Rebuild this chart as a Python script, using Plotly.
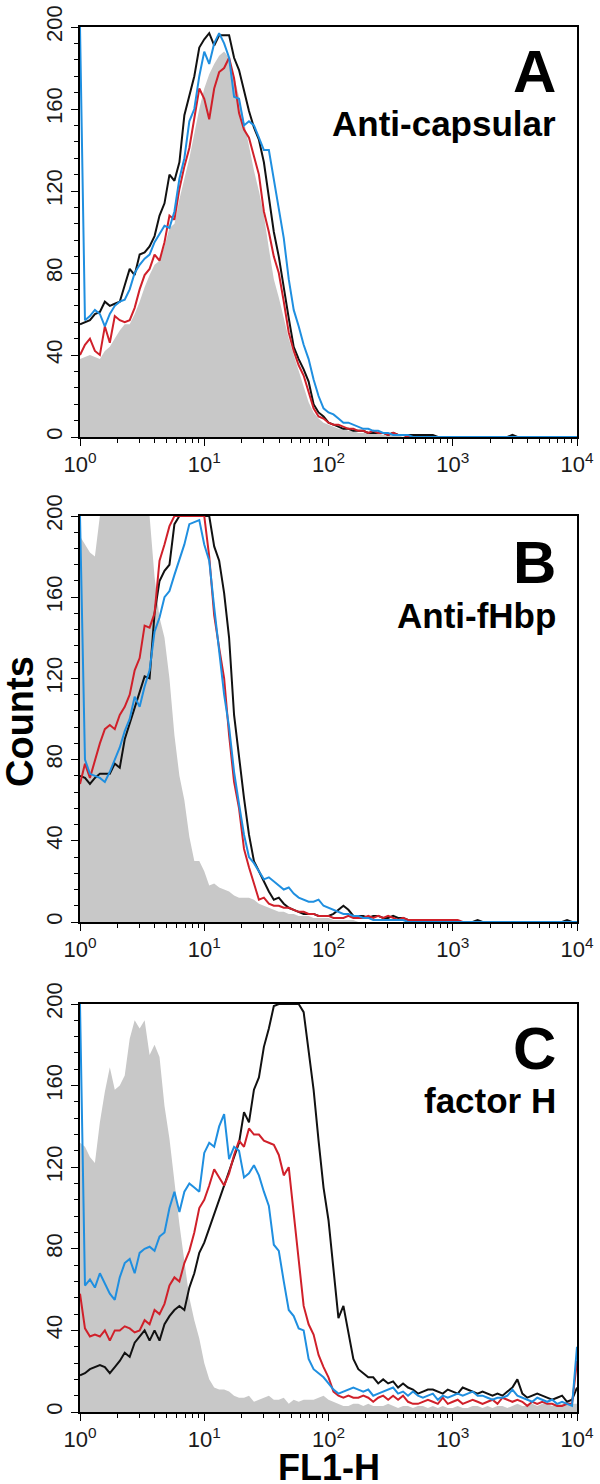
import plotly.graph_objects as go

# ---------------- data (counts per FL1-H channel, log10 step 0.04 from 10^0 to 10^4) ----------------
LOG_STEP = 0.04
N_BINS = 101
fl1 = [10 ** (k * LOG_STEP) for k in range(N_BINS)]

# Panel A : Anti-capsular
gray_A = [38,39,40,39,38,42,44,48,52,55,
          55,60,66,73,79,84,86,93,102,104,
          116,126,136,148,160,170,177,182,186,188,
          185,176,166,154,142,130,120,108,92,77,
          68,58,48,40,32,24,17,12,9,7,
          6,5,4,4,3,3,2,2,2,2,
          2,1,1,1,1,0,0,0,0,0,
          0,0,0,0,0,0,0,0,0,0,
          0,0,0,0,0,0,0,0,0,0,
          0,0,0,0,0,0,0,0,0,0,
          0]
black_A = [55,56,57,60,61,66,64,65,66,74,
           82,79,89,90,93,98,108,114,128,125,
           134,157,167,176,190,194,197,191,196,196,
           196,185,179,169,159,151,145,134,116,100,
           88,72,58,44,38,33,27,16,12,10,
           7,6,5,4,4,3,3,3,2,2,
           2,2,1,2,1,1,1,1,1,1,
           1,1,0,0,0,0,0,0,0,0,
           0,0,0,0,0,0,0,1,0,0,
           0,0,0,0,0,0,0,0,0,0,
           0]
red_A = [40,45,48,42,40,54,46,59,57,56,
         57,63,72,79,82,89,86,95,108,106,
         121,132,141,155,170,165,155,170,178,180,
         185,175,158,150,146,137,128,110,100,88,
         80,66,51,42,35,30,22,14,10,9,
         7,6,6,5,4,4,3,3,2,3,
         2,2,1,2,1,1,0,0,0,0,
         0,0,0,0,0,0,0,0,0,0,
         0,0,0,0,0,0,0,0,0,0,
         0,0,0,0,0,0,0,0,0,0,
         0]
blue_A = [200,57,59,62,60,54,60,64,66,67,
          72,80,84,87,89,95,99,103,102,110,
          126,136,154,160,176,188,182,192,197,192,
          185,166,165,152,154,152,146,140,140,126,
          113,97,77,62,54,45,38,28,20,14,
          12,11,9,7,7,6,5,4,4,3,
          3,2,2,1,1,1,1,0,0,0,
          0,0,0,0,0,0,0,0,0,0,
          0,0,0,0,0,0,0,0,0,0,
          0,0,0,0,0,0,0,0,0,0,
          0]

# Panel B : Anti-fHbp
gray_B = [190,186,182,180,200,200,200,200,200,200,
          200,200,200,200,200,170,150,140,120,92,
          72,60,42,30,30,25,18,19,17,16,
          15,13,12,12,12,11,9,8,7,6,
          5,5,4,4,3,3,3,2,2,2,
          2,1,1,1,1,1,0,0,0,0,
          0,0,0,0,0,0,0,0,0,0,
          0,0,0,0,0,0,0,0,0,0,
          0,0,0,0,0,0,0,0,0,0,
          0,0,0,0,0,0,0,0,0,0,
          0]
black_B = [72,71,68,71,73,73,73,78,76,90,
           98,105,113,121,120,152,168,173,176,196,
           200,200,200,200,200,200,200,185,178,162,
           140,102,80,61,43,30,25,20,15,11,
           12,9,7,6,5,4,4,4,3,3,
           3,4,6,8,6,3,3,3,2,3,
           3,2,2,3,2,2,1,1,1,1,
           1,1,1,1,1,1,0,0,0,0,
           1,0,0,0,0,0,0,0,0,0,
           0,0,0,0,0,0,0,0,1,0,
           0]
red_B = [68,78,71,80,88,95,97,95,102,106,
         112,124,130,146,145,152,178,186,195,200,
         200,200,200,200,200,200,180,151,135,120,
         92,69,56,36,27,19,11,12,9,8,
         8,7,7,6,5,5,4,4,3,3,
         3,2,2,2,3,2,2,2,3,2,
         3,2,3,2,1,2,1,1,1,1,
         1,1,1,1,1,1,1,0,0,0,
         0,0,0,0,0,0,0,0,0,0,
         0,0,0,0,0,0,0,0,0,0,
         0]
blue_B = [200,80,73,72,71,69,74,80,86,94,
          100,111,106,116,124,143,150,160,163,171,
          178,186,196,197,198,186,178,155,134,112,
          96,74,58,43,32,29,25,21,22,20,
          18,16,17,14,12,11,10,10,11,8,
          7,6,5,4,4,3,3,2,2,1,
          1,1,1,1,1,1,0,0,0,0,
          0,0,0,0,0,0,0,0,0,0,
          0,0,0,0,0,0,0,0,0,0,
          0,0,0,0,0,0,0,0,0,0,
          0]

# Panel C : factor H
gray_C = [132,130,125,122,142,157,169,158,160,165,
          183,192,188,192,175,180,174,150,134,112,
          92,74,56,45,36,24,16,12,11,11,
          10,8,7,7,8,5,6,7,8,6,
          6,7,4,6,5,6,6,6,7,8,
          6,5,4,3,3,4,4,3,4,3,
          3,3,4,3,2,3,3,2,3,3,
          2,3,2,3,2,2,3,2,2,3,
          3,2,3,2,3,3,2,3,4,3,
          3,4,3,4,4,3,4,4,5,4,
          4]
black_C = [18,19,21,22,23,22,19,22,25,29,
           27,34,37,40,35,40,35,43,47,50,
           52,50,61,68,78,83,90,97,104,110,
           118,124,132,147,142,158,164,179,188,199,
           200,200,200,200,200,196,177,158,133,110,
           94,71,46,52,38,26,21,19,17,17,
           14,16,14,15,12,14,12,11,9,10,
           11,11,10,9,11,10,9,12,11,10,
           9,10,9,8,9,8,10,12,16,9,
           7,8,9,8,7,6,7,8,5,6,
           12]
red_C = [58,41,37,38,37,40,35,40,40,42,
         41,39,40,45,43,50,48,53,62,66,
         64,73,79,88,100,104,111,119,115,111,
         117,126,133,130,139,136,136,133,132,131,
         126,116,120,97,77,52,43,38,28,22,
         17,10,8,7,8,7,7,8,7,5,
         7,8,6,8,6,8,5,4,4,5,
         6,5,4,7,4,5,6,4,5,6,
         5,4,5,6,4,7,6,5,6,5,
         3,5,4,5,4,4,3,3,4,4,
         25]
blue_C = [200,62,65,61,68,63,58,55,66,73,
          75,68,78,80,81,79,86,88,100,108,
          98,108,112,110,108,127,132,130,140,146,
          124,130,128,115,117,121,116,108,101,82,
          79,64,50,47,41,40,26,21,19,17,
          14,11,9,10,11,12,11,10,11,8,
          9,10,11,12,9,10,8,10,8,7,
          8,9,6,8,7,8,9,8,9,10,
          8,8,7,6,7,7,8,11,8,7,
          6,5,7,6,5,6,4,5,4,3,
          32]

panel_letters = ["A", "B", "C"]
panel_labels = ["Anti-capsular", "Anti-fHbp", "factor H"]
x_tick_vals = [1, 10, 100, 1000, 10000]
x_tick_text = ["10<sup>0</sup>", "10<sup>1</sup>", "10<sup>2</sup>", "10<sup>3</sup>", "10<sup>4</sup>"]
y_tick_vals = [0, 40, 80, 120, 160, 200]
y_title = "Counts"
x_title = "FL1-H"

panels = [
    (gray_A, black_A, red_A, blue_A),
    (gray_B, black_B, red_B, blue_B),
    (gray_C, black_C, red_C, blue_C),
]

# ---------------- style ----------------
FONT = "Liberation Sans, Arial, Helvetica, sans-serif"
GRAY = "#c8c8c8"
BLACK = "#111111"
RED = "#d0202a"
BLUE = "#1f8fe0"
LW = 2

# layout geometry (pixels)
W, H = 600, 1484
ML, MR, MT, MB = 80, 23, 27, 72
plot_h = H - MT - MB
panel_px = [(27, 437), (516, 922), (1004, 1412)]  # (top, bottom) pixel rows


def to_paper(py):
    return (H - MB - py) / plot_h


minor_x = [m * 10 ** d for d in range(4) for m in range(2, 10)]

fig = go.Figure()
for p, (g, k, r, b) in enumerate(panels):
    xa = "x" if p == 0 else f"x{p+1}"
    ya = "y" if p == 0 else f"y{p+1}"
    fig.add_trace(go.Scatter(x=fl1, y=g, mode="lines", line=dict(width=0, color=GRAY),
                             fill="tozeroy", fillcolor=GRAY, xaxis=xa, yaxis=ya, showlegend=False,
                             hoverinfo="skip"))
    for ser, col in ((k, BLACK), (r, RED), (b, BLUE)):
        fig.add_trace(go.Scatter(x=fl1, y=ser, mode="lines", line=dict(width=LW, color=col),
                                 xaxis=xa, yaxis=ya, showlegend=False))

layout = dict(
    width=W, height=H,
    margin=dict(l=ML, r=MR, t=MT, b=MB, autoexpand=False),
    paper_bgcolor="white", plot_bgcolor="white",
    font=dict(family=FONT, color="#1a1a1a", size=21),
    showlegend=False,
)

annotations = []
for p in range(3):
    top, bot = panel_px[p]
    sfx = "" if p == 0 else str(p + 1)
    anchor_y = "y" + sfx
    anchor_x = "x" + sfx
    layout["xaxis" + sfx] = dict(
        type="log", range=[0, 4], anchor=anchor_y, automargin=False,
        tickmode="array", tickvals=x_tick_vals, ticktext=x_tick_text,
        ticks="outside", ticklen=7, tickwidth=1.3, tickcolor="black",
        minor=dict(tickmode="array", tickvals=minor_x, ticks="outside", ticklen=4,
                   tickwidth=1, tickcolor="black", showgrid=False),
        showline=True, linecolor="black", linewidth=1.5, mirror=True,
        showgrid=False, zeroline=False,
        tickfont=dict(size=22, family=FONT, color="#1a1a1a"),
    )
    layout["yaxis" + sfx] = dict(
        range=[0, 200], anchor=anchor_x, automargin=False,
        domain=[to_paper(bot), to_paper(top)],
        tickmode="array", tickvals=y_tick_vals, tickangle=-90,
        ticks="outside", ticklen=7, tickwidth=1.3, tickcolor="black",
        minor=dict(dtick=8, ticks="outside", ticklen=4, tickwidth=1, tickcolor="black", showgrid=False),
        showline=True, linecolor="black", linewidth=1.5, mirror=True,
        showgrid=False, zeroline=False,
        tickfont=dict(size=22, family=FONT, color="#1a1a1a"),
    )
    ph = bot - top
    letter_c = top + (44.5 if p != 1 else 46.5)
    label_c = top + (96.5 if p == 0 else (99 if p == 1 else 96))
    annotations.append(dict(text="<b>" + panel_letters[p] + "</b>", xref=anchor_x + " domain",
                            yref=anchor_y + " domain", x=0.962, y=1 - (letter_c - top) / ph,
                            xanchor="right", yanchor="middle", showarrow=False,
                            font=dict(size=60, family=FONT, color="black")))
    annotations.append(dict(text="<b>" + panel_labels[p] + "</b>", xref=anchor_x + " domain",
                            yref=anchor_y + " domain", x=0.962, y=1 - (label_c - top) / ph,
                            xanchor="right", yanchor="middle", showarrow=False,
                            font=dict(size=35, family=FONT, color="black")))

annotations.append(dict(text="<b>" + y_title + "</b>", xref="paper", yref="paper",
                        x=(20 - ML) / (W - ML - MR), y=to_paper(722), xanchor="center", yanchor="middle",
                        textangle=-90, showarrow=False, font=dict(size=38, family=FONT, color="black")))
annotations.append(dict(text="<b>" + x_title + "</b>", xref="paper", yref="paper",
                        x=0.5, y=to_paper(1468), xanchor="center", yanchor="middle",
                        showarrow=False, font=dict(size=36, family=FONT, color="black")))
layout["annotations"] = annotations

fig.update_layout(**layout)
# remove the page's default 8px body margin so the figure sits at the window's top-left corner
fig.write_html("out.html", config={"displayModeBar": False},
               post_script="document.body.style.margin='0';document.body.style.overflow='hidden';")
